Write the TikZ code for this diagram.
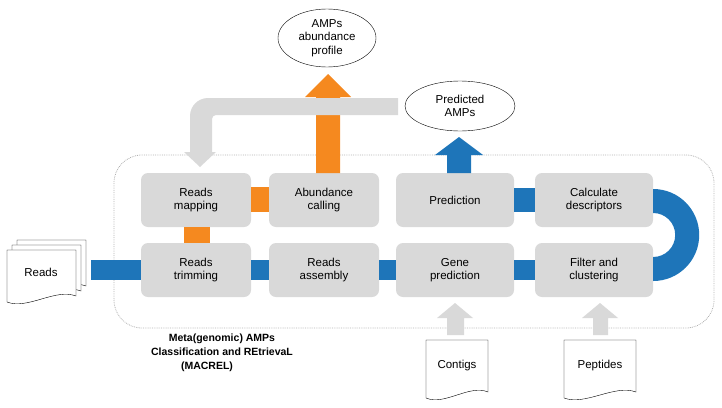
\documentclass[tikz,border=0pt]{standalone}
\usepackage{fontspec}
\setmainfont{Liberation Sans}
\usetikzlibrary{positioning,shapes.geometric}
\definecolor{mblue}{RGB}{30,117,185}
\definecolor{morange}{RGB}{245,137,31}
\definecolor{mgray}{RGB}{217,217,217}
\tikzset{
    stage/.style={rectangle, rounded corners=7pt, fill=mgray, minimum height=54pt, align=center, inner sep=0pt},
    bubble/.style={ellipse, draw, thin, fill=white, align=center, inner sep=0pt},
    doclabel/.style={align=center},
}
% document sheet with a wavy bottom edge
\newcommand\docsheet[4]{%
    \draw[fill=white, thin] (#1,#2) -- (#3,#2) -- (#3,#4-6) .. controls (#3-0.3*#3+0.3*#1,#4-14) and (#1+0.3*#3-0.3*#1,#4+8) .. (#1,#4) -- cycle;
}
\begin{document}
\begin{tikzpicture}[x=1pt, y=-1pt, font=\fontsize{11.5}{13.5}\selectfont]
    \useasboundingbox (0,0) rectangle (722,407);
    % frame of the pipeline
    \draw[densely dotted, gray!60, thick, rounded corners=28pt] (114,155) rectangle (714,328);
    % pipeline stages
    \node[stage, minimum width=110pt] (mapping) at (196,200) {Reads\\mapping};
    \node[stage, minimum width=110pt] (abund) at (324,200) {Abundance\\calling};
    \node[stage, minimum width=118pt] (pred) at (455,200) {Prediction};
    \node[stage, minimum width=118pt] (calc) at (594,200) {Calculate\\descriptors};
    \node[stage, minimum width=110pt] (trim) at (196,270) {Reads\\trimming};
    \node[stage, minimum width=110pt] (assem) at (324,270) {Reads\\assembly};
    \node[stage, minimum width=118pt] (genepred) at (455,270) {Gene\\prediction};
    \node[stage, minimum width=118pt] (filter) at (594,270) {Filter and\\clustering};
    % input documents
    \docsheet{17}{240}{86}{292}
    \docsheet{12}{245}{81}{297}
    \docsheet{7}{250}{76}{302}
    \node[doclabel] (reads) at (41,272) {Reads};
    \docsheet{426}{340}{488}{398}
    \node[doclabel] (contigs) at (457,366) {Contigs};
    \docsheet{564}{340}{636}{398}
    \node[doclabel] (peptides) at (600,366) {Peptides};
    % outputs
    \node[bubble, minimum width=98pt, minimum height=58pt] (profile) at (327,38) {AMPs\\abundance\\profile};
    \node[bubble, minimum width=110pt, minimum height=50pt] (predamps) at (460,106) {Predicted\\AMPs};
    % blue links
    \fill[mblue] (91,260) rectangle ([yshift=-10pt]trim.west);
    \fill[mblue] ([yshift=10pt]trim.east) rectangle ([yshift=-10pt]assem.west);
    \fill[mblue] ([yshift=10pt]assem.east) rectangle ([yshift=-10pt]genepred.west);
    \fill[mblue] ([yshift=10pt]genepred.east) rectangle ([yshift=-10pt]filter.west);
    \fill[mblue] ([yshift=12pt]pred.east) rectangle ([yshift=-12pt]calc.west);
    \fill[mblue] (calc.east |- 0,189) arc[start angle=90, end angle=-90, radius=46pt]
        -- (filter.east |- 0,257) arc[start angle=-90, end angle=90, radius=22pt] -- cycle;
    \fill[mblue] (447,173) -- (447,155) -- (435,155) -- (459,137) -- (483,155) -- (471,155) -- (471,173) -- cycle;
    % orange links
    \fill[morange] ([yshift=13pt]mapping.east) rectangle ([yshift=-12pt]abund.west);
    \fill[morange] (184,227) rectangle (210,243);
    \fill[morange] (316,173) -- (316,97) -- (305,97) -- (328,74) -- (351,97) -- (340,97) -- (340,173) -- cycle;
    % gray feeds
    \fill[mgray] (398,98) [rounded corners=18pt]-- (190,98) [sharp corners]-- (190,152) -- (184,152) -- (200,167)
        -- (216,152) -- (212,152) [rounded corners=4pt]-- (212,115) [sharp corners]-- (398,115) -- cycle;
    \fill[mgray] (447,335) -- (447,318) -- (437,318) -- (455,303) -- (473,318) -- (464,318) -- (464,335) -- cycle;
    \fill[mgray] (593,335) -- (593,318) -- (582,318) -- (600,303) -- (618,318) -- (608,318) -- (608,335) -- cycle;
    % tool name
    \node[align=center, font=\bfseries\fontsize{10.5}{14}\selectfont] (macrel) at (222,353)
        {Meta(genomic) AMPs\\Classification and REtrievaL\\\hspace*{-30pt}(MACREL)};
\end{tikzpicture}
\end{document}
